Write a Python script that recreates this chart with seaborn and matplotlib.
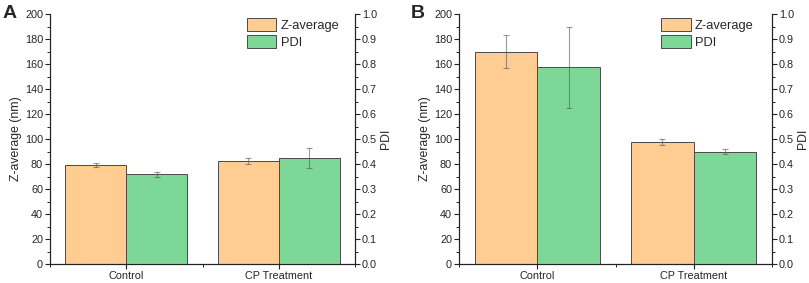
import numpy as np
import pandas as pd
import seaborn as sns
import matplotlib.pyplot as plt
from matplotlib.patches import Patch
from matplotlib.ticker import MultipleLocator

categories = ['Control', 'CP Treatment']
series = ['Z-average', 'PDI']

# panel A
z_a = [79.0, 82.5]
z_a_err = [1.5, 2.5]
pdi_a = [0.36, 0.425]
pdi_a_err = [0.01, 0.04]

# panel B
z_b = [170.0, 97.5]
z_b_err = [13.0, 2.5]
pdi_b = [0.787, 0.45]
pdi_b_err = [0.161, 0.01]

colors = {'Z-average': '#FFCC91', 'PDI': '#7DD898'}

sns.set_theme(style='ticks')
plt.rcParams['font.family'] = ['Liberation Sans', 'DejaVu Sans']

fig = plt.figure(figsize=(8.09, 2.83), dpi=100)
ax_a = fig.add_axes([50 / 809, 19 / 283, 305 / 809, 250 / 283])
ax_b = fig.add_axes([459 / 809, 19 / 283, 313 / 809, 250 / 283])


def panel(ax, z, z_err, pdi, pdi_err, letter):
    df_z = pd.DataFrame({'cat': categories, 'val': z, 'series': 'Z-average'})
    df_p = pd.DataFrame({'cat': categories, 'val': pdi, 'series': 'PDI'})
    ax2 = ax.twinx()

    sns.barplot(data=df_z, x='cat', y='val', hue='series', hue_order=series,
                palette=colors, order=categories, dodge=True, width=0.8, saturation=1,
                edgecolor='#4a4a4a', linewidth=0.7, legend=False, ax=ax)
    sns.barplot(data=df_p, x='cat', y='val', hue='series', hue_order=series,
                palette=colors, order=categories, dodge=True, width=0.8, saturation=1,
                edgecolor='#4a4a4a', linewidth=0.7, legend=False, ax=ax2)

    # error bars at the centres of the drawn bars
    for a, vals, errs in ((ax, z, z_err), (ax2, pdi, pdi_err)):
        xs = sorted(p.get_x() + p.get_width() / 2 for p in a.patches if p.get_height() > 0)
        a.errorbar(xs, vals, yerr=errs, fmt='none', ecolor='#555555', alpha=0.6,
                   elinewidth=0.8, capsize=2.2, capthick=0.8)

    ax.set_xlim(-0.5, 1.5)
    ax2.set_xlim(-0.5, 1.5)
    ax.set_ylim(0, 200)
    ax2.set_ylim(0, 1.0)
    ax.yaxis.set_major_locator(MultipleLocator(20))
    ax.yaxis.set_minor_locator(MultipleLocator(10))
    ax2.yaxis.set_major_locator(MultipleLocator(0.1))
    ax2.yaxis.set_minor_locator(MultipleLocator(0.05))
    ax2.yaxis.set_major_formatter(plt.FuncFormatter(lambda v, p: f'{v:.1f}'))
    ax.set_xticks([0, 1], categories)
    ax.xaxis.set_minor_locator(MultipleLocator(0.5))

    ax.set_xlabel('')
    ax.set_ylabel('Z-average (nm)', fontsize=8.8, labelpad=2)
    ax2.set_ylabel('PDI', fontsize=8.8, labelpad=2)

    for a in (ax, ax2):
        a.spines['top'].set_visible(False)
        for s in a.spines.values():
            s.set_linewidth(0.8)
            s.set_color('#222222')
        a.tick_params(which='major', length=3.5, width=0.8, labelsize=7.8, pad=1.5,
                      color='#222222')
        a.tick_params(which='minor', length=2, width=0.7, color='#222222')
    ax.tick_params(axis='x', which='minor', length=2)
    ax2.spines['right'].set_visible(True)

    handles = [Patch(facecolor=colors[s], edgecolor='#4a4a4a', linewidth=0.7) for s in series]
    ax2.legend(handles, series, loc='upper left', bbox_to_anchor=(0.645, 0.985),
               frameon=False, fontsize=9.3, handlelength=2.3, handleheight=1.15,
               handletextpad=0.35, labelspacing=0.3, borderpad=0, borderaxespad=0)

    ax.text(-0.155, 1.0, letter, transform=ax.transAxes, fontsize=14,
            fontweight='bold', ha='left', va='center')


panel(ax_a, z_a, z_a_err, pdi_a, pdi_a_err, 'A')
panel(ax_b, z_b, z_b_err, pdi_b, pdi_b_err, 'B')

fig.savefig('out.png', dpi=100)
